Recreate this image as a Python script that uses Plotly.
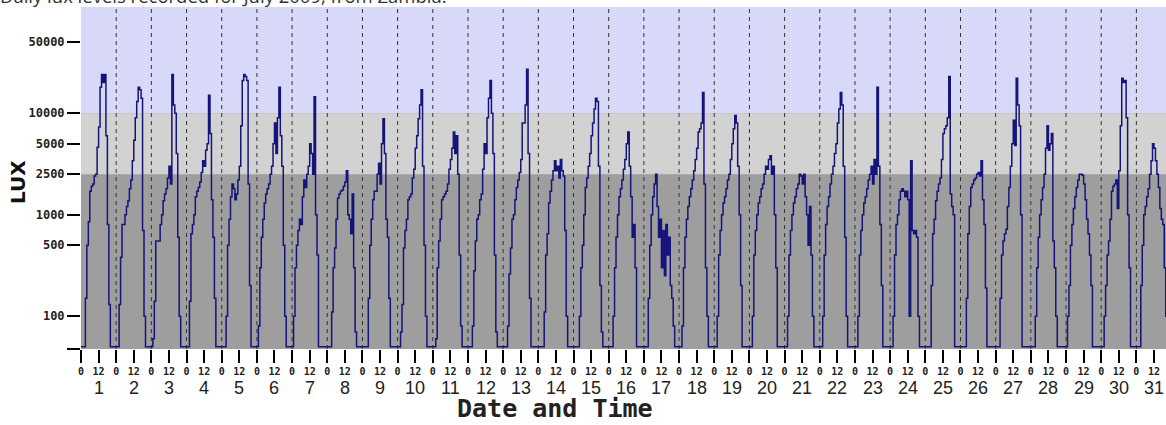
import math
import plotly.graph_objects as go

F = 50  # night-time reading: the trace sits on the bottom of the axis

hours_of_day = list(range(24))

jul01 = [F,F,F,150,500,850,1700,1900,2000,2400,2500,4600,7300,18000,24000,20000,24000,6000,800,130,F,F,F,F]
jul02 = [F,F,130,380,800,800,1000,1200,1370,1800,2200,3400,5400,9000,13000,18000,17000,14000,700,100,F,F,F,F]
jul03 = [F,60,140,550,550,550,800,1000,1370,1600,1800,2300,3000,2000,24000,12000,10000,4000,600,100,F,F,F,F]
jul04 = [F,F,140,650,800,1000,1500,1700,1850,2100,2600,3400,3000,4300,5000,15000,6300,1400,600,150,F,F,F,F]
jul05 = [F,F,F,100,500,900,1500,2000,1800,1400,1600,2200,3000,7500,21000,24000,23000,21000,2000,200,F,F,F,F]
jul06 = [F,80,300,600,900,1300,1600,1800,2000,2500,3000,5000,8000,4000,9000,18000,6000,3000,500,100,F,F,F,F]
jul07 = [F,100,300,500,700,900,800,1500,2200,1850,2500,3000,5000,4000,2500,14500,1000,400,F,F,F,F,F,F]
jul08 = [F,F,F,110,300,470,900,1450,1600,1700,1750,1900,2100,2700,1000,900,650,1600,300,70,F,F,F,F]
jul09 = [F,F,F,F,150,500,900,1400,1700,1700,2500,3200,2000,5000,8800,4000,900,600,150,F,F,F,F,F]
jul10 = [F,F,70,130,470,700,900,1400,1500,1600,2300,2800,4500,6000,8800,12000,17000,3000,500,100,F,F,F,F]
jul11 = [F,F,60,300,550,900,1400,1500,1600,1700,2000,2800,3500,4500,6500,4000,6000,2500,400,80,F,F,F,F]
jul12 = [F,F,F,80,280,550,900,1000,1400,1600,2800,5000,4000,9000,14000,21000,10000,4000,400,70,F,F,F,F]
jul13 = [F,F,F,80,260,470,900,1000,1400,1850,2200,2600,3500,8000,8000,12000,27000,4000,150,F,F,F,F,F]
jul14 = [F,F,F,F,110,400,650,1300,1700,2200,2700,3400,2700,3000,2300,3500,2700,2400,700,100,F,F,F,F]
jul15 = [F,F,F,F,100,300,500,1000,1850,2300,3000,4000,6000,8000,11000,14000,13000,3000,200,70,F,F,F,F]
jul16 = [F,F,F,100,300,600,1000,1500,1800,2200,2800,3500,5000,6500,3000,1500,600,800,300,F,F,F,F,F]
jul17 = [F,F,F,150,500,1000,1500,2000,2500,1200,600,900,300,700,250,800,400,600,200,150,80,F,F,F]
jul18 = [F,F,80,300,600,900,1200,1500,1800,2200,2700,3500,4500,6500,7000,8000,16000,2000,300,100,F,F,F,F]
jul19 = [F,F,100,400,700,1000,1300,1500,1800,2200,2500,3500,5000,7000,9500,8000,3000,1000,200,F,F,F,F,F]
jul20 = [F,F,100,400,700,1000,1300,1500,1800,2000,2500,3000,2800,3500,3800,2500,3000,1000,300,F,F,F,F,F]
jul21 = [F,F,100,400,700,1000,1300,1500,1800,2000,2500,2400,2000,2500,1500,1000,500,1200,400,100,F,F,F,F]
jul22 = [F,F,100,400,800,1200,1500,2000,2500,3000,4000,5000,8000,11000,16000,12000,3000,600,100,F,F,F,F,F]
jul23 = [F,F,100,400,700,1000,1300,1500,1800,2200,2500,3000,2000,3500,2500,18000,3000,800,200,F,F,F,F,F]
jul24 = [F,F,100,400,800,1000,1400,1700,1800,1700,1500,1700,1400,100,3400,700,650,700,600,100,F,F,F,F]
jul25 = [F,F,F,F,200,650,900,1370,1700,2000,2300,3500,6300,7000,7500,9000,23000,1600,1200,1000,F,F,F,F]
jul26 = [F,F,F,F,150,650,1200,1850,2000,2200,2300,2500,2600,2400,3400,1400,800,190,F,F,F,F,F,F]
jul27 = [F,F,F,150,400,550,650,720,1200,1850,3000,5000,8500,4800,22000,12000,7500,1000,F,F,F,F,F,F]
jul28 = [F,F,F,100,300,600,1000,1400,1850,2500,4500,7500,4300,5000,6300,550,300,100,F,F,F,F,F,F]
jul29 = [F,100,200,500,800,1150,1500,1850,2200,2500,2500,2450,2000,1400,900,650,400,200,F,F,F,F,F,F]
jul30 = [F,F,100,200,400,550,900,1700,1900,2000,2200,1150,2700,7500,22000,20000,21000,9000,1000,300,F,F,F,F]
jul31 = [F,F,F,200,500,1000,1200,1500,1800,2500,3400,5000,4500,3400,2500,1850,1150,900,800,300,100,F,F,F]

days = list(range(1, 32))
daily = [jul01, jul02, jul03, jul04, jul05, jul06, jul07, jul08, jul09, jul10,
         jul11, jul12, jul13, jul14, jul15, jul16, jul17, jul18, jul19, jul20,
         jul21, jul22, jul23, jul24, jul25, jul26, jul27, jul28, jul29, jul30, jul31]

y_tick_values = [100, 500, 1000, 2500, 5000, 10000, 50000]
band_limits = [2500, 10000]

# ---- build the series (time in hours since 1 July 00:00) ----
t, lux = [], []
for d, vals in zip(days, daily):
    for h, v in zip(hours_of_day, vals):
        t.append(24 * (d - 1) + h)
        lux.append(v)

Y_BOTTOM = 47.5
Y_TOP = 111000
X_END = 740.2
PLOT_W = 1166 - 81

fig = go.Figure()
fig.add_trace(go.Scatter(x=t, y=lux, mode="lines", line=dict(color="#14147a", width=1.5, shape="hv"),
                         hoverinfo="skip", showlegend=False))

shapes = [
    dict(type="rect", xref="paper", yref="y", x0=0, x1=1, y0=band_limits[1], y1=Y_TOP * 2,
         fillcolor="#d8d8f8", line_width=0, layer="below"),
    dict(type="rect", xref="paper", yref="y", x0=0, x1=1, y0=band_limits[0], y1=band_limits[1],
         fillcolor="#d2d2d2", line_width=0, layer="below"),
]
for d in days[1:]:
    shapes.append(dict(type="line", xref="x", yref="paper", x0=24 * (d - 1), x1=24 * (d - 1), y0=0, y1=1,
                       line=dict(color="#333333", width=1, dash="4px,4px"), layer="below"))

tickvals, ticktext = [], []
for d in days:
    tickvals += [24 * (d - 1), 24 * (d - 1) + 12]
    ticktext += ["<b>0</b>", "<b>12</b>"]

annotations = []
for d in days:
    annotations.append(dict(x=24 * (d - 1) + 12, y=0, xref="x", yref="paper", text=str(d), showarrow=False,
                            yanchor="middle", yshift=-39, font=dict(family="Liberation Sans", size=18, color="#222")))
annotations.append(dict(x=(555 - 81) / PLOT_W, y=0, xref="paper", yref="paper", text="<b>Date and Time</b>",
                        showarrow=False, yanchor="middle", yshift=-59,
                        font=dict(family="DejaVu Sans Mono", size=25, color="#222")))
annotations.append(dict(x=(18 - 81) / PLOT_W, y=(349 - 182) / 342, xref="paper", yref="paper",
                        text="<b>LUX</b>", textangle=-90, showarrow=False, xanchor="center", yanchor="middle",
                        font=dict(family="DejaVu Sans", size=20, color="#111")))
annotations.append(dict(x=-81 / PLOT_W, y=1, xref="paper", yref="paper", xanchor="left", yanchor="bottom",
                        text="Daily lux levels recorded for July 2009, from Zambia.", showarrow=False, yshift=-3,
                        xshift=-2, font=dict(family="Open Sans", size=18.5, color="#333")))

fig.update_layout(
    width=1166, height=425,
    margin=dict(l=81, r=0, t=7, b=76, autoexpand=False),
    paper_bgcolor="white", plot_bgcolor="#9e9e9e",
    shapes=shapes, annotations=annotations,
    xaxis=dict(range=[0, X_END], tickmode="array", tickvals=tickvals, ticktext=ticktext,
               ticks="outside", ticklen=13, tickwidth=1.5, tickcolor="black", automargin=False,
               tickfont=dict(family="DejaVu Sans Mono", size=10, color="#222"),
               showgrid=False, zeroline=False, showline=False),
    yaxis=dict(type="log", range=[math.log10(Y_BOTTOM), math.log10(Y_TOP)], automargin=False,
               tickmode="array", tickvals=[47.6] + y_tick_values,
               ticktext=[""] + ["<b>%d</b>" % v for v in y_tick_values],
               ticks="outside", ticklen=13, tickwidth=2, tickcolor="black",
               tickfont=dict(family="DejaVu Sans Mono", size=12, color="#222"),
               showgrid=False, zeroline=False, showline=False),
)

fig.write_html("out.html", config={"displayModeBar": False},
               post_script="document.body.style.margin='0';document.body.style.overflow='hidden';")
